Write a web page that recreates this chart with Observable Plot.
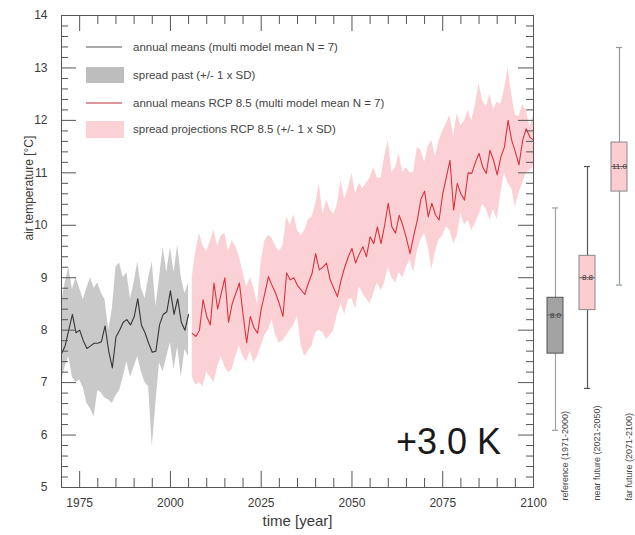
<!DOCTYPE html>
<html><head><meta charset="utf-8">
<script src="https://cdn.jsdelivr.net/npm/d3@7"></script>
<script src="https://cdn.jsdelivr.net/npm/@observablehq/plot@0.6"></script>
<style>
html,body{margin:0;padding:0;background:#fff;}
#wrap{position:relative;width:635px;height:535px;font-family:"Liberation Sans",Arial,sans-serif;}
</style></head><body><div id="wrap"></div>
<script>
// ---------- DATA ----------
const pastStart = 1970;
const pastMean = [7.55, 7.7, 8.0, 8.3, 7.95, 8.0, 7.8, 7.65, 7.7, 7.75,
                  7.75, 7.78, 8.08, 7.6, 7.28, 7.87, 8.0, 8.15, 8.2, 8.1,
                  8.25, 8.6, 8.1, 7.95, 7.75, 7.58, 7.6, 8.1, 8.3, 8.35,
                  8.75, 8.3, 8.6, 8.15, 8.0, 8.3];
const pastHi = [8.5, 8.9, 9.2, 8.77, 9.0, 8.8, 8.58, 8.8, 9.0, 8.8,
                8.9, 8.7, 8.58, 8.0, 8.4, 9.2, 9.28, 9.0, 9.1, 8.6,
                8.9, 9.3, 8.8, 8.6, 9.0, 9.3, 8.45, 9.0, 9.58, 9.1,
                9.58, 9.1, 9.62, 9.0, 8.7, 8.9];
const pastLo = [7.0, 7.3, 7.5, 7.1, 7.0, 7.05, 6.9, 6.6, 6.5, 6.35,
                6.85, 6.8, 6.7, 6.67, 6.6, 6.75, 6.85, 7.1, 7.4, 7.1,
                7.3, 7.5, 7.2, 7.0, 6.92, 5.78, 6.6, 7.38, 7.2, 7.5,
                7.76, 7.25, 7.68, 7.1, 7.63, 7.5];

const futStart = 2006;
const futMean = [7.94, 7.88, 8.0, 8.58, 8.26,
  8.1, 8.9, 8.4, 8.7, 9.0, 8.15, 8.5, 8.7, 8.9, 8.3,
  7.76, 8.26, 8.05, 7.94, 8.4, 8.7, 9.02, 8.85, 8.7, 8.5,
  8.26, 9.09, 8.96, 9.0, 8.85, 8.77, 8.68, 8.9, 9.08, 9.46,
  9.15, 9.2, 9.28, 8.96, 8.8, 8.64, 8.95, 9.2, 9.4, 9.56,
  9.28, 9.45, 9.59, 9.4, 9.78, 9.65, 9.97, 9.65, 10.0, 10.42,
  9.97, 9.85, 10.19, 10.0, 9.75, 9.46, 9.8, 10.1, 10.5, 10.65,
  10.16, 10.42, 10.2, 10.1, 10.6, 10.92, 11.24, 10.29, 10.8, 10.6,
  10.48, 11.0, 10.99, 11.2, 11.37, 11.11, 10.99, 11.43, 11.24, 10.96,
  11.3, 11.49, 12.0, 11.62, 11.4, 11.15, 11.62, 11.84, 11.68, 11.62];
const futHi = [9.0, 9.5, 9.85, 9.6, 9.5,
  9.7, 9.9, 9.6, 9.8, 9.85, 9.5, 9.7, 9.6, 9.4, 9.1,
  8.83, 9.0, 8.8, 8.5, 9.3, 9.7, 9.81, 9.75, 9.6, 9.5,
  9.6, 10.16, 10.0, 10.2, 9.9, 9.8, 9.9, 10.1, 10.16, 10.4,
  10.8, 10.2, 10.48, 10.3, 10.2, 10.4, 10.86, 10.5, 10.7, 10.99,
  10.6, 10.8, 10.7, 10.8, 10.9, 11.1, 10.9, 10.9, 11.3, 11.62,
  11.0, 11.1, 11.37, 11.0, 11.1, 11.0, 11.0, 11.49, 11.43, 11.2,
  11.5, 11.62, 11.3, 11.6, 11.8, 11.94, 12.1, 11.7, 12.13, 11.9,
  12.0, 12.19, 12.0, 12.3, 12.7, 12.38, 12.25, 12.5, 12.2, 12.35,
  12.3, 12.6, 13.0, 12.5, 12.1, 12.07, 12.3, 12.2, 11.87, 12.1];
const futLo = [7.1, 6.95, 7.0, 6.92, 7.2,
  7.1, 7.0, 7.3, 7.5, 7.3, 7.19, 7.25, 7.5, 7.7, 7.5,
  7.4, 7.6, 7.38, 7.5, 7.7, 7.9, 8.0, 8.2, 7.9, 7.75,
  7.8, 7.9, 8.0, 8.1, 8.26, 7.7, 7.5, 7.6, 7.7, 7.95,
  8.0, 7.95, 7.82, 7.9, 8.0, 8.3, 8.5, 8.3, 8.58, 8.6,
  8.4, 8.83, 8.7, 8.6, 8.5, 8.7, 8.9, 8.75, 8.9, 9.2,
  9.0, 8.9, 9.1, 9.0, 9.2, 9.34, 9.1, 9.5, 9.72, 9.85,
  9.6, 9.15, 9.5, 9.72, 9.8, 9.97, 9.9, 9.65, 9.8, 10.23,
  10.0, 10.1, 9.9, 10.04, 10.2, 10.4, 10.3, 10.1, 10.3, 10.1,
  10.6, 10.99, 10.8, 10.7, 10.35, 10.6, 10.8, 10.99, 11.05, 11.11];

// box plots (right panel)
const boxCats = ["reference (1971-2000)", "near future (2021-2050)", "far future (2071-2100)"];
const boxLabels = ["8.0", "8.8", "11.0"];
const boxLo  = [6.09, 6.89, 8.86];
const boxQ1  = [7.40, 8.23, 10.49];
const boxMed = [8.29, 9.0, 11.12];
const boxQ3  = [8.77, 9.57, 11.73];
const boxHi  = [10.33, 11.12, 13.39];

// ticks
const xMajor = [1975, 2000, 2025, 2050, 2075, 2100];
const yMajor = [5, 6, 7, 8, 9, 10, 11, 12, 13, 14];

const legendLabels = [
  "annual means (multi model mean N = 7)",
  "spread past (+/- 1 x SD)",
  "annual means RCP 8.5  (multi model mean N = 7)",
  "spread projections RCP 8.5 (+/- 1 x SD)"
];
const annotation = "+3.0 K";

// ---------- BUILD ----------
const past = pastMean.map((m, i) => ({year: pastStart + i, mean: m, hi: pastHi[i], lo: pastLo[i]}));
const fut = futMean.map((m, i) => ({year: futStart + i, mean: m, hi: futHi[i], lo: futLo[i]}));
const boxes = boxCats.map((c, i) => ({cat: c, label: boxLabels[i], lo: boxLo[i], q1: boxQ1[i], med: boxMed[i], q3: boxQ3[i], hi: boxHi[i]}));

const xMinor = d3.range(1975, 2100, 5).filter(d => !xMajor.includes(d));
const yMinor = d3.range(5.2, 14, 0.2).map(d => +d.toFixed(1)).filter(d => !Number.isInteger(d));

const FONT = "'Liberation Sans', Arial, Helvetica, sans-serif";
const W = 635, H = 535, mL = 61, mR = 102, mT = 15, mB = 48;
const FH = H - mT - mB, FW = W - mL - mR;
const AX = "#555";
const C = {
  pastBand: "#c9c9c9", pastLine: "#363636",
  futBand: "#fcd1d5", futLine: "#db333c",
  text: "#3a3a3a"
};

const wrap = document.getElementById("wrap");

const main = Plot.plot({
  width: W, height: H,
  marginLeft: mL, marginRight: mR, marginTop: mT, marginBottom: mB,
  x: {domain: [1970, 2100]},
  y: {domain: [5, 14]},
  style: {fontFamily: FONT, fontSize: "12px", color: C.text, background: "#fff"},
  marks: [
    Plot.areaY(past, {x: "year", y1: "lo", y2: "hi", fill: C.pastBand}),
    Plot.areaY(fut, {x: "year", y1: "lo", y2: "hi", fill: C.futBand}),
    Plot.lineY(past, {x: "year", y: "mean", stroke: C.pastLine, strokeWidth: 1.1}),
    Plot.lineY(fut, {x: "year", y: "mean", stroke: C.futLine, strokeWidth: 1.1}),
    // inward ticks on all four sides
    Plot.tickX(xMinor, {x: d => d, stroke: AX, insetTop: FH - 9}),
    Plot.tickX(xMinor, {x: d => d, stroke: AX, insetBottom: FH - 9}),
    Plot.tickX(xMajor, {x: d => d, stroke: AX, insetTop: FH - 16}),
    Plot.tickX(xMajor, {x: d => d, stroke: AX, insetBottom: FH - 16}),
    Plot.tickY(yMinor, {y: d => d, stroke: AX, insetRight: FW - 7}),
    Plot.tickY(yMinor, {y: d => d, stroke: AX, insetLeft: FW - 7}),
    Plot.tickY(yMajor, {y: d => d, stroke: AX, insetRight: FW - 15}),
    Plot.tickY(yMajor, {y: d => d, stroke: AX, insetLeft: FW - 15}),
    Plot.axisX({ticks: xMajor, tickSize: 0, tickPadding: 11, tickFormat: d => `${d}`, label: null}),
    Plot.axisY({ticks: yMajor, tickSize: 0, tickPadding: 14, tickFormat: d => `${d}`, label: null}),
    Plot.frame({stroke: AX}),
    Plot.text(["time [year]"], {text: d => d, frameAnchor: "bottom", dy: 38, fontSize: 15, fill: C.text}),
    Plot.text(["air temperature [°C]"], {text: d => d, frameAnchor: "left", rotate: -90, dx: -32, dy: -11, fontSize: 12, fill: C.text, ariaLabel: "ylabel"})
  ]
});
main.style.position = "absolute"; main.style.left = "0px"; main.style.top = "0px";
wrap.appendChild(main);
d3.select(main).selectAll('g[aria-label="ylabel"] text').attr("textLength", 186).attr("lengthAdjust", "spacingAndGlyphs");

const boxFill = {[boxCats[0]]: "#a3a3a3", [boxCats[1]]: "#fbcdd1", [boxCats[2]]: "#fbcdd1"};
const boxStroke = {[boxCats[0]]: "#555", [boxCats[1]]: "#888", [boxCats[2]]: "#888"};
const whisk = {[boxCats[0]]: "#a0a0a0", [boxCats[1]]: "#555", [boxCats[2]]: "#8f99a3"};

const side = Plot.plot({
  width: 100, height: H,
  marginLeft: 4, marginRight: 0, marginTop: mT, marginBottom: mB,
  x: {domain: boxCats, padding: 0, axis: null},
  y: {domain: [5, 14], axis: null},
  color: {type: "identity"},
  style: {fontFamily: FONT, fontSize: "9px", color: C.text, background: "none", overflow: "visible"},
  marks: [
    Plot.ruleX(boxes, {x: "cat", y1: "lo", y2: "hi", stroke: d => whisk[d.cat], strokeWidth: 1.2}),
    Plot.tickY(boxes, {x: "cat", y: "lo", stroke: d => whisk[d.cat], inset: 13, strokeWidth: 1.2}),
    Plot.tickY(boxes, {x: "cat", y: "hi", stroke: d => whisk[d.cat], inset: 13, strokeWidth: 1.2}),
    Plot.barY(boxes, {x: "cat", y1: "q1", y2: "q3", fill: d => boxFill[d.cat], stroke: d => boxStroke[d.cat], inset: 8}),
    Plot.tickY(boxes, {x: "cat", y: "med", stroke: "#666", inset: 8}),
    Plot.text(boxes, {x: "cat", y: "med", text: "label", fontSize: 8, fill: "#333"}),
    Plot.text(boxes, {x: "cat", text: "cat", frameAnchor: "bottom", rotate: -90, textAnchor: "start", dx: 12, dy: 13, fontSize: 9, fill: "#444", ariaLabel: "boxcats"})
  ]
});
side.style.position = "absolute"; side.style.left = "535px"; side.style.top = "0px";
wrap.appendChild(side);
const catLen = [140, 165, 135];
d3.select(side).selectAll('g[aria-label="boxcats"] text').each(function(d, i) {
  d3.select(this).attr("textLength", catLen[i]).attr("lengthAdjust", "spacingAndGlyphs");
});

// legend overlay
const leg = d3.create("svg").attr("width", W).attr("height", H)
  .style("position", "absolute").style("left", "0px").style("top", "0px").style("pointer-events", "none")
  .style("font-family", FONT);
const rowY = [47, 75, 103, 129];
const swatch = [
  g => g.append("line").attr("x1", 86).attr("x2", 122).attr("stroke", "#555").attr("stroke-width", 1),
  g => g.append("rect").attr("x", 86).attr("y", -8).attr("width", 38).attr("height", 16).attr("fill", "#bdbdbd"),
  g => g.append("line").attr("x1", 86).attr("x2", 122).attr("stroke", "#c0303a").attr("stroke-width", 1.2),
  g => g.append("rect").attr("x", 86).attr("y", -8).attr("width", 38).attr("height", 17).attr("fill", "#fcd1d5")
];
legendLabels.forEach((lab, i) => {
  const g = leg.append("g").attr("transform", `translate(0,${rowY[i]})`);
  swatch[i](g);
  g.append("text").attr("x", 133).attr("dy", "0.35em").attr("font-size", 11.5).attr("fill", "#444").text(lab);
});
wrap.appendChild(leg.node());

const ann = document.createElement("div");
ann.textContent = annotation;
Object.assign(ann.style, {position: "absolute", left: "396px", top: "424px", fontSize: "36px", lineHeight: "36px", fontFamily: FONT, color: "#1a1a1a", whiteSpace: "nowrap"});
wrap.appendChild(ann);
</script></body></html>
